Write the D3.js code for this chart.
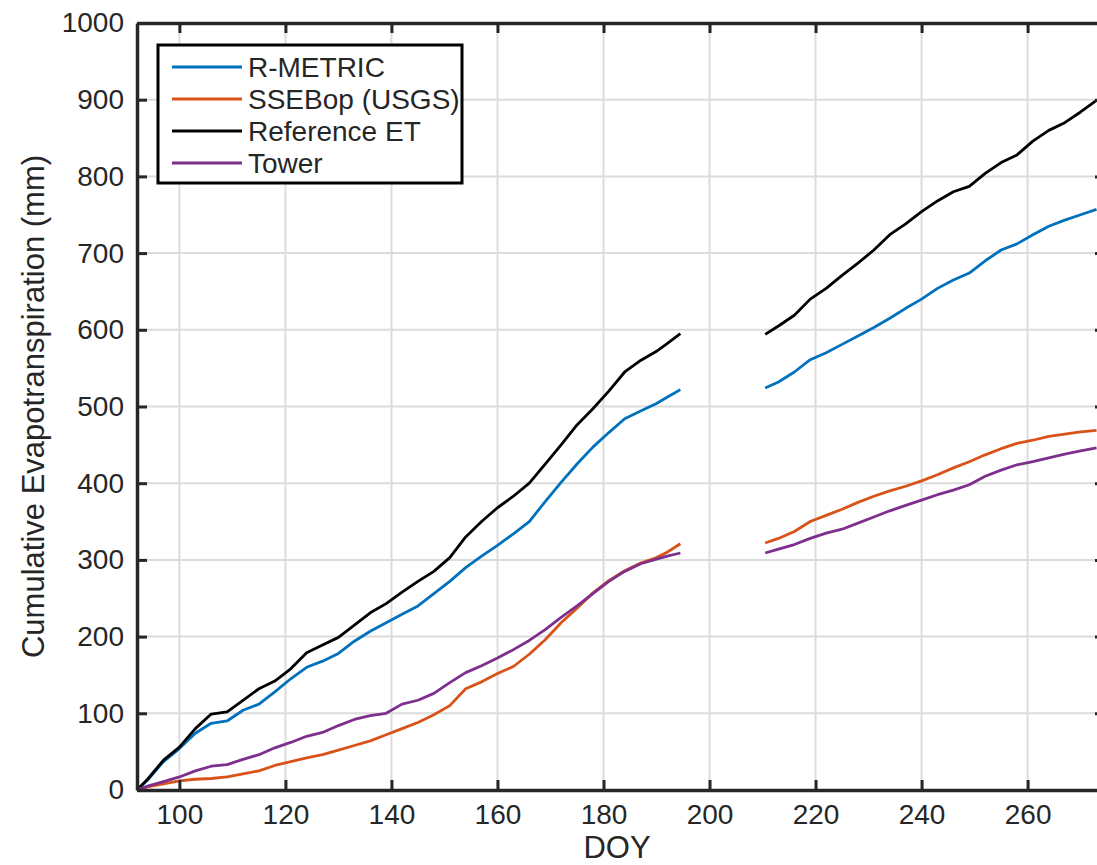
<!DOCTYPE html>
<html>
<head>
<meta charset="utf-8">
<script src="https://cdn.jsdelivr.net/npm/d3@7"></script>
<style>
    body { margin: 0; background: #fff; }
    svg text { font-family: "Liberation Sans", Arial, Helvetica, sans-serif; fill: #262626; }
</style>
</head>
<body>
<svg id="et-svg" width="1097" height="865"></svg>
<script>
// day of year; 202 is a placeholder that breaks the lines (no data 195-210)
const doy = [92, 94, 97, 100, 103, 106, 109, 112, 115, 118, 121, 124, 127, 130, 133, 136, 139, 142, 145, 148,
    151, 154, 157, 160, 163, 166, 169, 172, 175, 178, 181, 184, 187, 190, 192, 194.5,
    202,
    210.5, 213, 216, 219, 222, 225, 228, 231, 234, 237, 240, 243, 246, 249, 252, 255, 258, 261, 264, 267, 270, 273];

const rMetric = [0, 13, 37, 54, 74, 87, 90, 104, 112, 128, 145, 160, 168, 178, 194, 207, 218, 229, 240, 256,
    272, 290, 305, 319, 334, 350, 376, 401, 425, 447, 466, 484, 494, 504, 512, 522,
    null,
    524, 532, 545, 561, 570, 581, 592, 603, 615, 628, 640, 654, 665, 674, 690, 704, 712, 724, 735, 743, 750, 757];

const ssebop = [0, 4, 8, 12, 14, 15, 17, 21, 25, 32, 37, 42, 46, 52, 58, 64, 72, 80, 88, 98,
    110, 132, 141, 152, 161, 177, 196, 218, 237, 257, 273, 286, 296, 303, 310, 321,
    null,
    322, 328, 337, 350, 358, 366, 375, 383, 390, 396, 403, 411, 420, 428, 437, 445, 452, 456, 461, 464, 467, 469];

const referenceEt = [0, 14, 39, 56, 80, 99, 102, 117, 132, 142, 158, 179, 189, 199, 215, 231, 243, 258, 272, 285,
    303, 330, 350, 368, 383, 400, 425, 450, 476, 497, 520, 545, 560, 572, 582, 595,
    null,
    594, 605, 619, 640, 654, 671, 687, 704, 724, 738, 754, 768, 780, 787, 804, 818, 828, 846, 860, 870, 884, 899];

const tower = [0, 5, 11, 17, 25, 31, 33, 40, 46, 55, 62, 70, 75, 84, 92, 97, 100, 112, 117, 126,
    140, 153, 162, 172, 183, 195, 209, 225, 240, 256, 272, 285, 295, 301, 305, 309,
    null,
    309, 314, 320, 328, 335, 340, 348, 356, 364, 371, 378, 385, 391, 398, 409, 417, 424, 428, 433, 438, 442, 446];

const seriesNames = ["R-METRIC", "SSEBop (USGS)", "Reference ET", "Tower"];
const seriesValues = [rMetric, ssebop, referenceEt, tower];
const seriesColors = ["#0072BD", "#D95319", "#000000", "#7E2F8E"];

const xTicks = [100, 120, 140, 160, 180, 200, 220, 240, 260];
const yTicks = [0, 100, 200, 300, 400, 500, 600, 700, 800, 900, 1000];

class EtChart {
    constructor() {
        this.left = 137;
        this.right = 1105;
        this.top = 23;
        this.bottom = 790;
        this.tickLength = 10;
        this.fontSize = 28;

        this.x = d3.scaleLinear().domain([92, 274.6]).range([this.left, this.right]);
        this.y = d3.scaleLinear().domain([0, 1000]).range([this.bottom, this.top]);

        this._svg = d3.select("#et-svg");
        this._drawGrid();
        this._drawLines();
        this._drawAxes();
        this._drawLegend();
    }

    _drawGrid() {
        const g = this._svg.append("g").attr("stroke", "#dcdcdc").attr("stroke-width", 2);
        g.selectAll("line.gx")
            .data(xTicks)
            .join("line")
            .attr("x1", d => this.x(d))
            .attr("x2", d => this.x(d))
            .attr("y1", this.top)
            .attr("y2", this.bottom);
        g.selectAll("line.gy")
            .data(yTicks)
            .join("line")
            .attr("x1", this.left)
            .attr("x2", this.right)
            .attr("y1", d => this.y(d))
            .attr("y2", d => this.y(d));
    }

    _drawLines() {
        this._svg
            .append("clipPath")
            .attr("id", "plot-clip")
            .append("rect")
            .attr("x", this.left)
            .attr("y", this.top)
            .attr("width", this.right - this.left)
            .attr("height", this.bottom - this.top);

        const line = d3
            .line()
            .defined(d => d[1] !== null)
            .x(d => this.x(d[0]))
            .y(d => this.y(d[1]));

        this._svg
            .append("g")
            .attr("clip-path", "url(#plot-clip)")
            .selectAll("path")
            .data(seriesValues)
            .join("path")
            .attr("d", values => line(doy.map((day, i) => [day, values[i]])))
            .attr("fill", "none")
            .attr("stroke", (d, i) => seriesColors[i])
            .attr("stroke-width", 2.8)
            .attr("stroke-linejoin", "round");
    }

    _drawAxes() {
        const t = -this.tickLength;
        const styleAxis = g => {
            g.select(".domain").attr("stroke", "#262626").attr("stroke-width", 3.5);
            g.selectAll(".tick line").attr("stroke", "#262626").attr("stroke-width", 3);
            g.selectAll(".tick text").attr("font-size", this.fontSize).attr("fill", "#262626");
        };

        this._svg
            .append("g")
            .attr("transform", `translate(0,${this.bottom})`)
            .call(d3.axisBottom(this.x).tickValues(xTicks).tickSizeInner(t).tickSizeOuter(0).tickPadding(14))
            .call(styleAxis);
        this._svg
            .append("g")
            .attr("transform", `translate(0,${this.top})`)
            .call(d3.axisTop(this.x).tickValues(xTicks).tickSizeInner(t).tickSizeOuter(0).tickFormat(""))
            .call(styleAxis);
        this._svg
            .append("g")
            .attr("transform", `translate(${this.left},0)`)
            .call(d3.axisLeft(this.y).tickValues(yTicks).tickFormat(d3.format("d"))
                .tickSizeInner(t).tickSizeOuter(0).tickPadding(13))
            .call(styleAxis);
        this._svg
            .append("g")
            .attr("transform", `translate(${this.right},0)`)
            .call(d3.axisRight(this.y).tickValues(yTicks).tickSizeInner(t).tickSizeOuter(0).tickFormat(""))
            .call(styleAxis);

        // axis titles
        this._svg
            .append("text")
            .attr("x", (this.left + 1097) / 2)
            .attr("y", 858)
            .attr("text-anchor", "middle")
            .attr("font-size", 31)
            .text("DOY");
        this._svg
            .append("text")
            .attr("transform", `translate(44,${(this.top + this.bottom) / 2}) rotate(-90)`)
            .attr("text-anchor", "middle")
            .attr("font-size", 31)
            .text("Cumulative Evapotranspiration (mm)");
    }

    _drawLegend() {
        const g = this._svg.append("g").attr("transform", "translate(158,45)");
        g.append("rect")
            .attr("width", 304)
            .attr("height", 138)
            .attr("fill", "#fff")
            .attr("stroke", "#000")
            .attr("stroke-width", 3);

        const rows = g
            .selectAll("g.row")
            .data(seriesNames)
            .join("g")
            .attr("transform", (d, i) => `translate(0,${22 + i * 32})`);
        rows.append("line")
            .attr("x1", 14)
            .attr("x2", 84)
            .attr("stroke", (d, i) => seriesColors[i])
            .attr("stroke-width", 2.8);
        rows.append("text")
            .attr("x", 90)
            .attr("dy", "0.36em")
            .attr("font-size", this.fontSize)
            .text(d => d);
    }
}

new EtChart();
</script>
</body>
</html>
